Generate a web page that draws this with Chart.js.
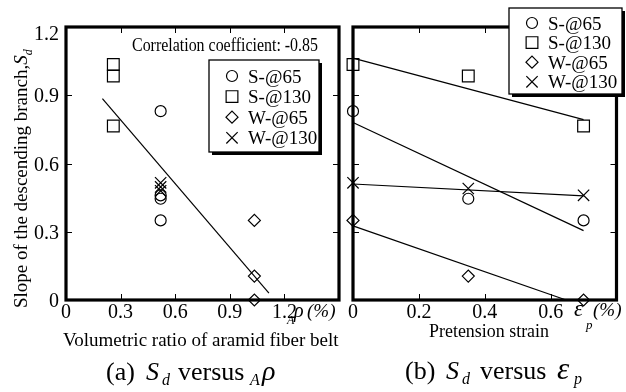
<!DOCTYPE html>
<html>
<head>
<meta charset="utf-8">
<script src="https://cdn.jsdelivr.net/npm/chart.js"></script>
<style>
html,body{margin:0;padding:0;background:#fff;}
#wrap{position:relative;width:626px;height:392px;overflow:hidden;background:#fff;}
canvas{position:absolute;left:0;top:0;}
</style>
</head>
<body>
<div id="wrap">
<canvas id="ca" width="626" height="392"></canvas>
<canvas id="cb" width="626" height="392"></canvas>
</div>
<script>
const FONT = '"Liberation Serif", "Times New Roman", "DejaVu Serif", serif';

// ---------- Panel (a): Sd versus A-rho ----------
const rhoTickLabels = [0, 0.3, 0.6, 0.9, 1.2];
const sdTickLabels = [0, 0.3, 0.6, 0.9, 1.2];
const rhoS65 = [0.52, 0.52, 0.52, 0.52];
const sdRhoS65 = [0.83, 0.46, 0.445, 0.35];
const rhoS130 = [0.26, 0.26, 0.26];
const sdRhoS130 = [1.035, 0.985, 0.765];
const rhoW65 = [1.035, 1.035, 1.035];
const sdRhoW65 = [0.35, 0.105, 0];
const rhoW130 = [0.52, 0.52, 0.52];
const sdRhoW130 = [0.515, 0.497, 0.48];
const fitRhoX = [0.2, 1.115];
const fitRhoY = [0.885, 0.03];

// ---------- Panel (b): Sd versus eps_p ----------
const epsTickLabels = [0, 0.2, 0.4, 0.6];
const eps = [0, 0.35, 0.7];
const sdEpsS65 = [0.83, 0.445, 0.35];
const sdEpsS130 = [1.035, 0.985, 0.765];
const sdEpsW65 = [0.35, 0.105, 0];
const sdEpsW130 = [0.515, 0.49, 0.46];
const fitEpsX = [0, 0.7];
const fitEpsS130 = [1.063, 0.793];
const fitEpsS65 = [0.78, 0.305];
const fitEpsW130 = [0.51, 0.458];
const fitEpsW65X = [0, 0.647];
const fitEpsW65 = [0.326, 0];

const seriesNames = ['S-@65', 'S-@130', 'W-@65', 'W-@130'];
const seriesStyles = [
  {pointStyle: 'circle', radius: 5.5},
  {pointStyle: 'rect', radius: 8.3},
  {pointStyle: 'rectRot', radius: 6},
  {pointStyle: 'crossRot', radius: 8}
];

function pts(xs, ys) { return xs.map((x, i) => ({x: x, y: ys[i]})); }

function markerSet(label, xs, ys, k) {
  return {
    label: label, data: pts(xs, ys), showLine: false,
    pointStyle: seriesStyles[k].pointStyle, pointRadius: seriesStyles[k].radius,
    pointBorderColor: '#000', pointBackgroundColor: 'rgba(0,0,0,0)', pointBorderWidth: 1.2,
    borderColor: '#000', clip: false
  };
}
function lineSet(xs, ys) {
  return {
    label: 'fit', data: pts(xs, ys), showLine: true, pointRadius: 0,
    borderColor: '#000', borderWidth: 1.2, clip: false
  };
}

function drawRuns(ctx, x, y, parts) {
  let cx = x;
  for (const p of parts) {
    ctx.font = (p.i ? 'italic ' : '') + p.s + 'px ' + FONT;
    if (p.x !== undefined) cx = p.x;
    ctx.fillText(p.t, cx, y + (p.dy || 0));
    cx += ctx.measureText(p.t).width;
  }
}

function drawMarker(ctx, style, radius, x, y) {
  ctx.beginPath();
  if (style === 'circle') {
    ctx.arc(x, y, radius, 0, Math.PI * 2);
  } else if (style === 'rect') {
    const s = Math.SQRT1_2 * radius;
    ctx.rect(x - s, y - s, 2 * s, 2 * s);
  } else if (style === 'rectRot') {
    ctx.moveTo(x - radius, y); ctx.lineTo(x, y - radius); ctx.lineTo(x + radius, y); ctx.lineTo(x, y + radius); ctx.closePath();
  } else if (style === 'crossRot') {
    const s = Math.SQRT1_2 * radius;
    ctx.moveTo(x - s, y - s); ctx.lineTo(x + s, y + s);
    ctx.moveTo(x + s, y - s); ctx.lineTo(x - s, y + s);
  }
  ctx.stroke();
}

function makeFrame(o) {
  return {
    id: 'frame',
    beforeDatasetsDraw(chart) {
      const ctx = chart.ctx, a = chart.chartArea, xs = chart.scales.x, ys = chart.scales.y;
      ctx.save();
      ctx.strokeStyle = '#000';
      ctx.lineWidth = 1;
      ctx.beginPath();
      for (const v of o.xt) {
        const px = Math.round(xs.getPixelForValue(v)) + 0.5;
        ctx.moveTo(px, a.top); ctx.lineTo(px, a.top + 6);
        ctx.moveTo(px, a.bottom); ctx.lineTo(px, a.bottom - 6);
      }
      for (const v of o.yt) {
        const py = Math.round(ys.getPixelForValue(v)) + 0.5;
        ctx.moveTo(a.left, py); ctx.lineTo(a.left + 6, py);
        ctx.moveTo(a.right, py); ctx.lineTo(a.right - 6, py);
      }
      ctx.stroke();
      ctx.lineWidth = 3.2;
      ctx.strokeRect(a.left, a.top, a.right - a.left, a.bottom - a.top);
      ctx.restore();
    },
    afterDraw(chart) {
      const ctx = chart.ctx;
      ctx.save();
      ctx.fillStyle = '#000';
      ctx.textBaseline = 'alphabetic';
      o.draw(chart, ctx);
      const L = o.legend;
      ctx.fillStyle = '#000';
      ctx.fillRect(L.x + 3, L.y + 3, L.w, L.h);
      ctx.fillStyle = '#fff';
      ctx.fillRect(L.x, L.y, L.w, L.h);
      ctx.strokeStyle = '#000';
      ctx.lineWidth = 1.3;
      ctx.strokeRect(L.x, L.y, L.w, L.h);
      ctx.fillStyle = '#000';
      ctx.font = '19px ' + FONT;
      ctx.textAlign = 'left';
      seriesNames.forEach((n, i) => {
        const cy = L.y0 + i * L.dy;
        ctx.lineWidth = 1.2;
        drawMarker(ctx, seriesStyles[i].pointStyle, seriesStyles[i].radius, L.mx, cy);
        ctx.fillText(n, L.tx, cy + 6.5);
      });
      ctx.restore();
    }
  };
}

function baseOptions(pad, xmin, xmax) {
  return {
    responsive: false, animation: false, devicePixelRatio: 1,
    layout: {padding: pad},
    scales: {
      x: {type: 'linear', min: xmin, max: xmax, display: false},
      y: {type: 'linear', min: 0, max: 1.2, display: false}
    },
    plugins: {legend: {display: false}, tooltip: {enabled: false}}
  };
}

const TICK_BASE = 318;

// Panel (a)
new Chart(document.getElementById('ca'), {
  type: 'scatter',
  data: {datasets: [
    lineSet(fitRhoX, fitRhoY),
    markerSet(seriesNames[0], rhoS65, sdRhoS65, 0),
    markerSet(seriesNames[1], rhoS130, sdRhoS130, 1),
    markerSet(seriesNames[2], rhoW65, sdRhoW65, 2),
    markerSet(seriesNames[3], rhoW130, sdRhoW130, 3)
  ]},
  options: baseOptions({left: 66, right: 287, top: 27, bottom: 92}, 0, 1.5),
  plugins: [makeFrame({
    xt: [0.3, 0.6, 0.9, 1.2], yt: [0.3, 0.6, 0.9],
    legend: {x: 209, y: 60, w: 110, h: 92, mx: 232, tx: 248, y0: 76, dy: 20.6},
    draw(chart, ctx) {
      const xs = chart.scales.x, ys = chart.scales.y;
      ctx.font = '20px ' + FONT;
      ctx.textAlign = 'right';
      for (const v of sdTickLabels) {
        const py = ys.getPixelForValue(v);
        ctx.fillText(String(v), 59, Math.max(py + 7, 40));
      }
      ctx.textAlign = 'center';
      for (const v of rhoTickLabels) {
        ctx.fillText(String(v), xs.getPixelForValue(v), TICK_BASE);
      }
      ctx.textAlign = 'left';
      drawRuns(ctx, 0, TICK_BASE, [
        {t: 'A', s: 12, i: true, x: 287, dy: 6},
        {t: 'ρ', s: 20, i: true, x: 294, dy: -1},
        {t: '(%)', s: 19, i: true, x: 307, dy: -1}
      ]);
      ctx.font = '18px ' + FONT;
      ctx.fillText('Correlation coefficient: -0.85', 132, 51, 186);
      ctx.font = '19px ' + FONT;
      ctx.fillText('Volumetric ratio of aramid fiber belt', 63, 346, 278);
      ctx.save();
      ctx.translate(27, 308);
      ctx.rotate(-Math.PI / 2);
      drawRuns(ctx, 0, 0, [
        {t: 'Slope of the descending branch,', s: 19},
        {t: 'S', s: 19, i: true},
        {t: 'd', s: 12, i: true, dy: 5}
      ]);
      ctx.restore();
      drawRuns(ctx, 0, 380, [
        {t: '(a)', s: 26, x: 106},
        {t: 'S', s: 26, i: true, x: 146},
        {t: 'd', s: 16, i: true, x: 162, dy: 5},
        {t: 'versus', s: 26, x: 178},
        {t: 'A', s: 16, i: true, x: 250, dy: 5},
        {t: 'ρ', s: 28, i: true, x: 262}
      ]);
    }
  })]
});

// Panel (b)
new Chart(document.getElementById('cb'), {
  type: 'scatter',
  data: {datasets: [
    lineSet(fitEpsX, fitEpsS130),
    lineSet(fitEpsX, fitEpsS65),
    lineSet(fitEpsX, fitEpsW130),
    lineSet(fitEpsW65X, fitEpsW65),
    markerSet(seriesNames[0], eps, sdEpsS65, 0),
    markerSet(seriesNames[1], eps, sdEpsS130, 1),
    markerSet(seriesNames[2], eps, sdEpsW65, 2),
    markerSet(seriesNames[3], eps, sdEpsW130, 3)
  ]},
  options: baseOptions({left: 353, right: 2, top: 27, bottom: 92}, 0, 0.8),
  plugins: [makeFrame({
    xt: [0.2, 0.4, 0.6], yt: [0.3, 0.6, 0.9],
    legend: {x: 509, y: 8, w: 113, h: 86, mx: 532, tx: 548, y0: 23, dy: 19.6},
    draw(chart, ctx) {
      const xs = chart.scales.x;
      ctx.font = '20px ' + FONT;
      ctx.textAlign = 'center';
      for (const v of epsTickLabels) {
        ctx.fillText(String(v), xs.getPixelForValue(v), TICK_BASE);
      }
      ctx.textAlign = 'left';
      drawRuns(ctx, 0, 316, [
        {t: 'ε', s: 23, i: true, x: 574},
        {t: 'p', s: 13, i: true, x: 586, dy: 13},
        {t: '(%)', s: 19, i: true, x: 593}
      ]);
      ctx.font = '18px ' + FONT;
      ctx.fillText('Pretension strain', 429, 337, 120);
      drawRuns(ctx, 0, 379, [
        {t: '(b)', s: 26, x: 405},
        {t: 'S', s: 26, i: true, x: 446},
        {t: 'd', s: 16, i: true, x: 462, dy: 5},
        {t: 'versus', s: 26, x: 480},
        {t: 'ε', s: 31, i: true, x: 557},
        {t: 'p', s: 16, i: true, x: 574, dy: 5}
      ]);
    }
  })]
});
</script>
</body>
</html>
